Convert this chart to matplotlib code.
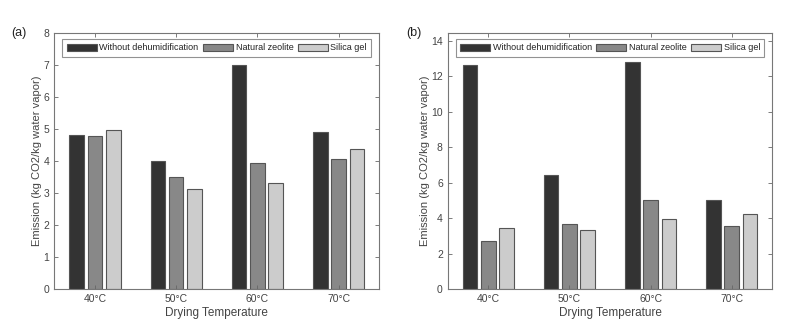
import matplotlib
matplotlib.use("Agg")
import matplotlib.pyplot as plt
import numpy as np

plt.rcParams['font.family'] = ['Liberation Sans', 'DejaVu Sans']

categories = ["40°C", "50°C", "60°C", "70°C"]
series_names = ["Without dehumidification", "Natural zeolite", "Silica gel"]

a_without = [4.82, 4.00, 7.00, 4.91]
a_zeolite = [4.78, 3.50, 3.94, 4.05]
a_silica = [4.96, 3.13, 3.31, 4.36]

b_without = [12.63, 6.45, 12.82, 5.04]
b_zeolite = [2.71, 3.68, 5.00, 3.54]
b_silica = [3.46, 3.35, 3.95, 4.25]

colors = ["#333333", "#888888", "#cccccc"]
edge = "#555555"
txt = "#444444"

fig = plt.figure(figsize=(8.02, 3.34), dpi=100)
W, H = 802, 334

def panel(rect, series, ylim, yticks, tag, tagpos):
    ax = fig.add_axes([rect[0] / W, 1 - rect[3] / H, (rect[2] - rect[0]) / W, (rect[3] - rect[1]) / H])
    x = np.arange(1, len(categories) + 1)
    off = 0.226
    w = 0.18
    for i, vals in enumerate(series):
        ax.bar(x + (i - 1) * off, vals, width=w, color=colors[i], edgecolor=edge,
               linewidth=0.8, label=series_names[i])
    ax.set_xlim(0.5, 4.5)
    ax.set_ylim(*ylim)
    ax.set_xticks(x)
    ax.set_xticklabels(categories)
    ax.set_yticks(yticks)
    ax.tick_params(direction='in', top=True, right=True, length=3, width=0.6,
                   colors="#666666", labelcolor=txt, labelsize=7.5)
    for s in ax.spines.values():
        s.set_color("#777777")
        s.set_linewidth(0.8)
    ax.set_xlabel("Drying Temperature", fontsize=8.5, color=txt, labelpad=2)
    ax.set_ylabel("Emission (kg CO2/kg water vapor)", fontsize=8, color=txt, labelpad=1)
    leg = ax.legend(loc='upper center', ncol=3, fontsize=6.5, frameon=True, fancybox=False,
                    edgecolor="#777777", handlelength=3.3, handleheight=0.9,
                    columnspacing=0.5, handletextpad=0.3, borderpad=0.5,
                    bbox_to_anchor=(0.5, 0.976), borderaxespad=0.0)
    leg.get_frame().set_linewidth(0.8)
    for t in leg.get_texts():
        t.set_color("#222222")
    fig.text(tagpos[0] / W, 1 - tagpos[1] / H, tag, fontsize=9, color="#222222",
             ha='left', va='center')
    return ax

panel((54.3, 32.7, 379.3, 289), [a_without, a_zeolite, a_silica], (0, 8), range(0, 9), "(a)", (11, 33))
panel((447.7, 32.7, 772.3, 289), [b_without, b_zeolite, b_silica], (0, 14.45), range(0, 15, 2), "(b)", (406, 33))

fig.savefig("out.png", dpi=100)
